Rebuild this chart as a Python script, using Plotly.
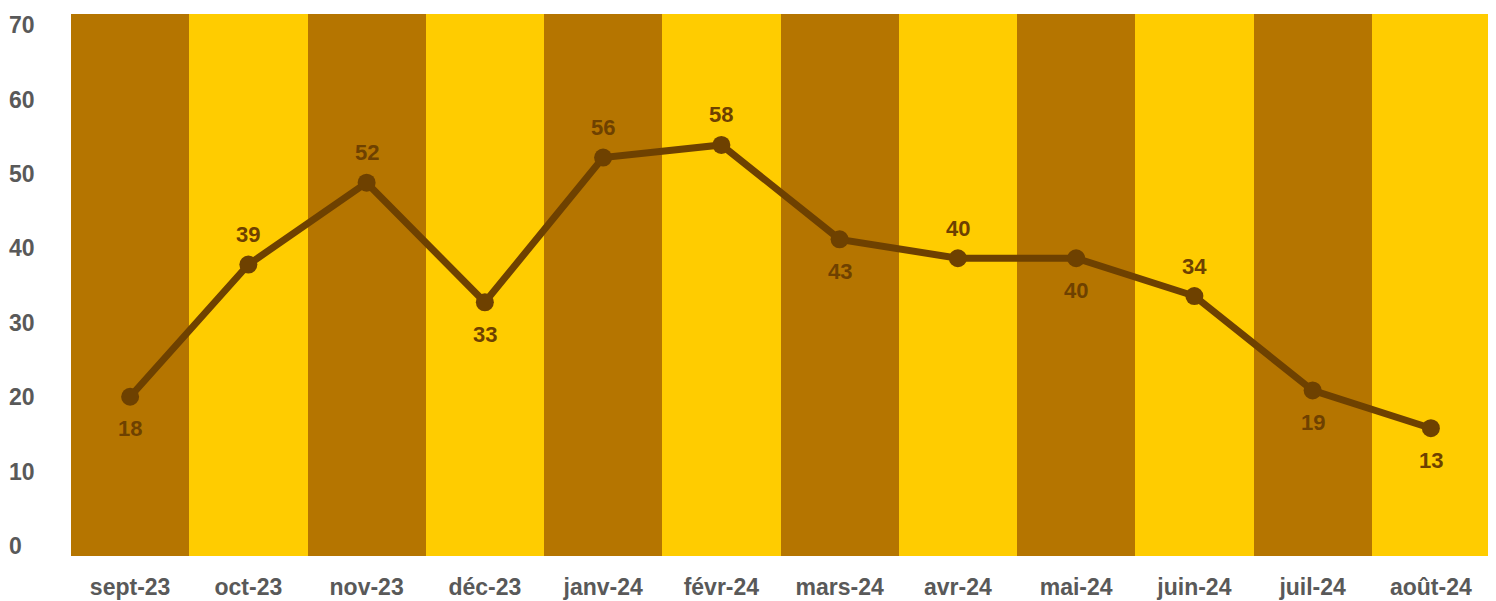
import plotly.graph_objects as go

months = ["sept-23", "oct-23", "nov-23", "déc-23", "janv-24", "févr-24",
          "mars-24", "avr-24", "mai-24", "juin-24", "juil-24", "août-24"]
values = [18, 39, 52, 33, 56, 58, 43, 40, 40, 34, 19, 13]
label_above = [False, True, True, False, True, True,
               False, True, False, True, False, False]
band_height = [1] * 12
y_ticks = [0, 10, 20, 30, 40, 50, 60, 70]

BROWN = "#B57500"
YELLOW = "#FFCC00"
LINE = "#6E4100"
GREY = "#595959"
FONT = "Liberation Sans"
FS_AXIS = 23
FS_LABEL = 22

band_colors = [BROWN if i % 2 == 0 else YELLOW for i in range(len(months))]

fig = go.Figure()
fig.add_trace(go.Bar(
    x=months, y=band_height, marker=dict(color=band_colors, line=dict(width=0)),
    yaxis="y", hoverinfo="skip", showlegend=False,
))
# invisible trace so that the tick axis is rendered
fig.add_trace(go.Scatter(
    x=[months[0]], y=[y_ticks[0]], yaxis="y2", mode="markers",
    marker=dict(opacity=0), hoverinfo="skip", showlegend=False,
))
fig.add_trace(go.Scatter(
    x=months, y=values, yaxis="y3", mode="lines+markers",
    line=dict(color=LINE, width=7), marker=dict(color=LINE, size=18),
    showlegend=False,
))

for m, v, above in zip(months, values, label_above):
    fig.add_annotation(
        x=m, y=v, xref="x", yref="y3", text=str(v), showarrow=False,
        yshift=30 if above else -32,
        font=dict(family=FONT, size=FS_LABEL, color=LINE, weight="bold"),
    )

fig.update_layout(
    template="none",
    width=1488, height=593,
    margin=dict(l=0, r=6, t=6, b=45, pad=0),
    paper_bgcolor="white", plot_bgcolor="white",
    bargap=0, showlegend=False,
    xaxis=dict(domain=[0.0425, 1], range=[-0.5, len(months) - 0.5],
               showgrid=False, zeroline=False, showline=False, automargin=False,
               ticks="outside", ticklen=10, tickcolor="rgba(0,0,0,0)",
               tickfont=dict(family=FONT, size=FS_AXIS, color=GREY, weight="bold")),
    yaxis=dict(range=[0, 1], visible=False, fixedrange=True, automargin=False),
    yaxis2=dict(range=[-1.34, 71.48], overlaying="y", anchor="free", position=0,
                side="right", tickvals=y_ticks, ticks="", ticklabelstandoff=0,
                showgrid=False, zeroline=False, showline=False, automargin=False,
                tickfont=dict(family=FONT, size=FS_AXIS, color=GREY, weight="bold")),
    yaxis3=dict(range=[-7.3, 78.8], overlaying="y", visible=False, automargin=False),
)

fig.write_html("out.html")
